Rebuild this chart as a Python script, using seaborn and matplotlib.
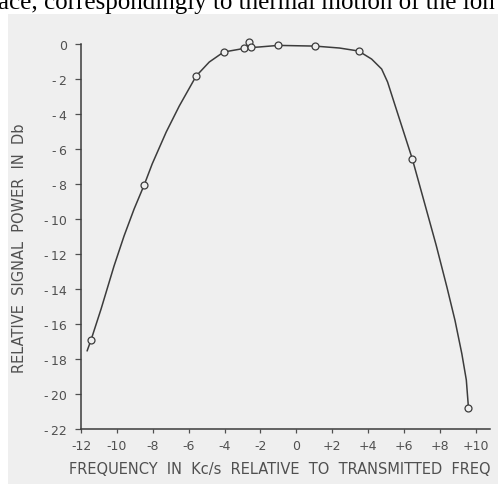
import matplotlib
matplotlib.use("Agg")
import matplotlib.pyplot as plt
import seaborn as sns
import pandas as pd

# measured points (open circles)
freq = [-11.44, -8.48, -5.58, -4.05, -2.9, -2.65, -2.55, -1.0, 1.05, 3.47, 6.47, 9.6]
power = [-16.9, -8.06, -1.83, -0.46, -0.23, 0.12, -0.17, -0.08, -0.12, -0.4, -6.57, -20.8]

# hand drawn curve
curve_x = [-11.66, -11.44, -10.88, -10.16, -9.6, -9.04, -8.48, -8.03, -7.25, -6.52,
           -5.58, -4.85, -4.05, -3.17, -2.9, -2.06, -1.0, 1.05, 2.41, 3.47,
           4.2, 4.76, 5.09, 5.49, 5.93, 6.47, 7.1, 7.8, 8.4, 8.85, 9.23, 9.48, 9.6]
curve_y = [-17.54, -16.91, -15.14, -12.69, -10.97, -9.43, -8.06, -6.85, -5.03, -3.54,
           -1.83, -1.03, -0.46, -0.3, -0.23, -0.17, -0.08, -0.12, -0.23, -0.4,
           -0.86, -1.43, -2.17, -3.45, -4.85, -6.57, -8.9, -11.5, -13.9, -15.8, -17.7, -19.2, -20.8]

xticks = [-12, -10, -8, -6, -4, -2, 0, 2, 4, 6, 8, 10]
xtick_labels = ['-12', '-10', '-8', '-6', '-4', '-2', '0', '+2', '+4', '+6', '+8', '+10']
yticks = [0, -2, -4, -6, -8, -10, -12, -14, -16, -18, -20, -22]
ytick_labels = ['0', '-2', '-4', '-6', '-8', '-10', '-12', '-14', '-16', '-18', '-20', '-22']

bg = '#efefef'
ink = '#505050'
pen = '#3c3c3c'

sns.set_style('ticks')
plt.rcParams['font.family'] = ['DejaVu Sans']

fig = plt.figure(figsize=(4.98, 4.85), dpi=100)
fig.patch.set_facecolor('white')

# scanned page area
fig.patches.append(plt.Rectangle((8 / 498, 0), 1, 1 - 15 / 485, transform=fig.transFigure,
                                 facecolor=bg, edgecolor='none', zorder=-5))

# cut-off line of the book text above the figure
fig.text(-2 / 498, 1 - 9 / 485, 'ace, correspondingly to thermal motion of the ion',
         family='Liberation Serif', fontsize=18, color='black', va='baseline', ha='left',
         zorder=-4)

ax = fig.add_axes([81 / 498, 55 / 485, 409 / 498, 385 / 485])
ax.set_facecolor(bg)

curve = pd.DataFrame({'x': curve_x, 'y': curve_y})
pts = pd.DataFrame({'x': freq, 'y': power})
sns.lineplot(data=curve, x='x', y='y', sort=False, color=pen, linewidth=1.1, ax=ax)
sns.scatterplot(data=pts, x='x', y='y', marker='o', s=25, facecolor=bg,
                edgecolor=pen, linewidth=0.9, zorder=3, ax=ax, clip_on=False)

ax.set_xlim(-12, 10.8)
ax.set_ylim(-22, 0)
ax.set_xticks(xticks)
ax.set_xticklabels(xtick_labels)
ax.set_yticks(yticks)
ax.set_yticklabels([t.replace('-', '-\u2009') for t in ytick_labels])
ax.tick_params(axis='both', colors=ink, labelsize=9, width=0.9)
ax.tick_params(axis='y', length=4, pad=6)
ax.tick_params(axis='x', length=3, pad=4)
for s in ['top', 'right']:
    ax.spines[s].set_visible(False)
for s in ['left', 'bottom']:
    ax.spines[s].set_color(pen)
    ax.spines[s].set_linewidth(1.1)

ax.set_xlabel('FREQUENCY  IN  Kc/s  RELATIVE  TO  TRANSMITTED  FREQ', fontsize=10.5,
              color=ink, va='center')
ax.set_ylabel('RELATIVE  SIGNAL  POWER  IN  Db', fontsize=10.5, color=ink, va='center')
ax.xaxis.set_label_coords(0.485, -0.102)
ax.yaxis.set_label_coords(-0.15, 0.473)

fig.savefig('out.png', dpi=100, facecolor=fig.get_facecolor())
